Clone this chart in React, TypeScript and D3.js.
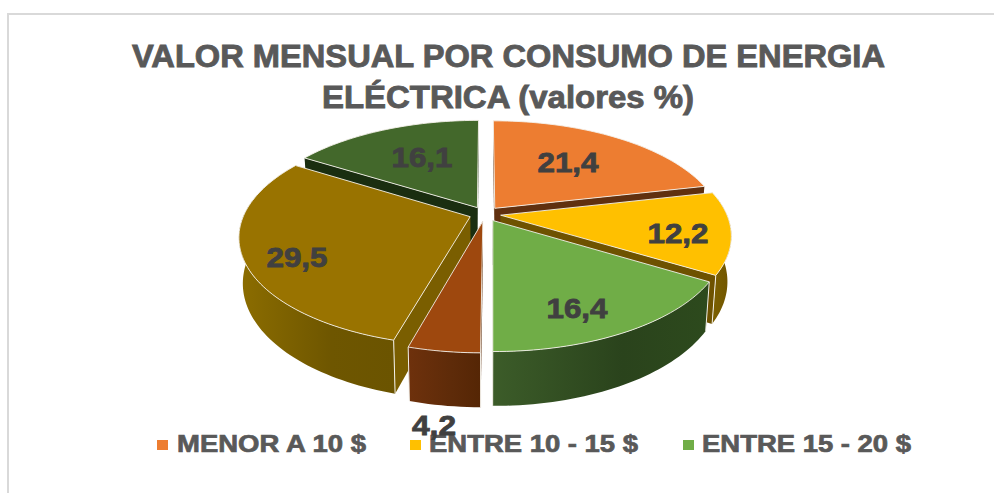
import React from "react";
import * as d3 from "d3";

const categories = ["MENOR A 10 $", "ENTRE 10 - 15 $", "ENTRE 15 - 20 $", "ENTRE 20 - 25 $", "ENTRE 25 - 30 $", "MAYOR A 30 $"];
const values = [21.4, 12.2, 16.4, 4.2, 29.5, 16.1];
const valueLabels = ["21,4", "12,2", "16,4", "4,2", "29,5", "16,1"];
const topColors = ["#ED7D31", "#FFC000", "#70AD47", "#9E480E", "#997300", "#43682B"];
const cutColors = ["#60300F", "#6E5200", "#2D4A1D", "#5A2A08", "#7A5E00", "#1A2E10"];
const rimStartColors = ["#60300F", "#7A5E00", "#3C5C29", "#6E310C", "#8C6D00", "#2D4A1D"];
const rimMidColors = ["#60300F", "#745800", "#2A431C", "#5E2B09", "#6E5600", "#2D4A1D"];
const rimEndColors = ["#60300F", "#6E5200", "#2D4A1D", "#552605", "#6B5400", "#2D4A1D"];
const legendCount = 3;
const titleLines = ["VALOR MENSUAL POR CONSUMO DE ENERGIA", "ELÉCTRICA (valores %)"];

// drawing order, back to front
const paintOrder = [5, 0, 1, 4, 3, 2];
// label centre offsets from the pie centre
const labelOffsets: [number, number][] = [
  [83, -52], [193, 19], [92, 94], [-51, 211], [-188, 43], [-63, -57],
];
const legendLayout = [
  { sq: 157, tx: 177, w: 189 },
  { sq: 410, tx: 429, w: 209 },
  { sq: 683, tx: 702, w: 209 },
];

const W = 994, H = 493;
const CX = 485, CY = 214, RX = 226, AY = 105, B = 0.179, DEPTH = 44, SHRINK = 0.016, EXPLODE = 0.07, RIM_MARGIN = 0.16;

function project(x: number, y: number, z: number): [number, number] {
  const den = 1 - B * y;
  return [CX + (RX * x * (1 - SHRINK * z)) / den, CY + (AY * y + DEPTH * z) / den];
}

const path = d3.line<[number, number]>().x((d) => d[0]).y((d) => d[1]);

export default function App() {
  const arcs = d3.pie<number>().sort(null).startAngle(0).endAngle(2 * Math.PI)(values);

  const slices = arcs.map((a, i) => {
    const mid = (a.startAngle + a.endAngle) / 2;
    const ox = EXPLODE * Math.sin(mid);
    const oy = -EXPLODE * Math.cos(mid);
    const at = (ang: number, r: number, z: number) =>
      project(ox + r * Math.sin(ang), oy - r * Math.cos(ang), z);
    const arcPts = (from: number, to: number, z: number) => {
      const n = Math.max(8, Math.ceil((to - from) * 40));
      return d3.range(n + 1).map((k) => at(from + ((to - from) * k) / n, 1, z));
    };
    const apex = at(0, 0, 0);
    const apexB = at(0, 0, 1);
    const top = path([apex, ...arcPts(a.startAngle, a.endAngle, 0)])! + "Z";
    const cut = (ang: number) => path([apex, at(ang, 1, 0), at(ang, 1, 1), apexB])! + "Z";
    // only the front of the rim faces the viewer
    const from = Math.max(a.startAngle, Math.PI / 2 - RIM_MARGIN);
    const to = Math.min(a.endAngle, (3 * Math.PI) / 2 + RIM_MARGIN);
    const hasRim = to > from;
    const tops = hasRim ? arcPts(from, to, 0) : [];
    const bots = hasRim ? arcPts(from, to, 1) : [];
    const rim = hasRim ? path([...tops, ...bots.slice().reverse()])! + "Z" : "";
    const corners = [a.startAngle, a.endAngle]
      .filter((t) => hasRim && t >= from - 1e-6 && t <= to + 1e-6)
      .map((t) => path([at(t, 1, 0), at(t, 1, 1)])!);
    const xs = tops.map((p) => p[0]);
    return {
      i, top, wall1: cut(a.startAngle), wall2: cut(a.endAngle), rim, corners,
      x0: d3.min(xs) ?? 0, x1: d3.max(xs) ?? 1,
    };
  });

  return (
    <svg
      width={W}
      height={H}
      viewBox={`0 0 ${W} ${H}`}
      style={{ position: "absolute", left: 0, top: 0, background: "#fff" }}
      fontFamily="'Liberation Sans', Arial, sans-serif"
    >
      <defs>
        {slices.map((s) => (
          <linearGradient key={s.i} id={`wall${s.i}`} gradientUnits="userSpaceOnUse" x1={s.x0} x2={s.x1} y1={0} y2={0}>
            <stop offset="0" stopColor={rimStartColors[s.i]} />
            <stop offset="0.6" stopColor={rimMidColors[s.i]} />
            <stop offset="1" stopColor={rimEndColors[s.i]} />
          </linearGradient>
        ))}
      </defs>

      <path d={`M${W},14H8V${H}`} fill="none" stroke="#d9d9d9" strokeWidth={2} />

      {titleLines.map((t, i) => (
        <text
          key={t}
          x={i === 0 ? 132 : 322}
          y={i === 0 ? 67 : 108}
          fontSize={32}
          fontWeight="bold"
          fill="#595959"
          stroke="#595959"
          strokeWidth={0.9}
          textLength={i === 0 ? 753 : 372}
          lengthAdjust="spacingAndGlyphs"
        >
          {t}
        </text>
      ))}

      {paintOrder.map((idx) => {
        const s = slices[idx];
        return (
          <g key={idx}>
            <path d={s.wall1} fill={cutColors[idx]} />
            <path d={s.wall2} fill={cutColors[idx]} />
            {s.rim && <path d={s.rim} fill={`url(#wall${idx})`} />}
            {s.corners.map((c, k) => (
              <path key={k} d={c} fill="none" stroke="#f4f1ea" strokeWidth={1} />
            ))}
            <path d={s.top} fill={topColors[idx]} stroke="#f4f1ea" strokeWidth={0.9} strokeLinejoin="round" />
          </g>
        );
      })}

      {categories.slice(0, legendCount).map((c, i) => (
        <g key={c}>
          <rect x={legendLayout[i].sq} y={440} width={11} height={10} fill={topColors[i]} />
          <text
            x={legendLayout[i].tx}
            y={452}
            fontSize={23.5}
            fontWeight="bold"
            fill="#595959"
            stroke="#595959"
            strokeWidth={0.7}
            textLength={legendLayout[i].w}
            lengthAdjust="spacingAndGlyphs"
          >
            {c}
          </text>
        </g>
      ))}

      {valueLabels.map((t, i) => (
        <text
          key={t}
          x={CX + labelOffsets[i][0]}
          y={CY + labelOffsets[i][1]}
          dy="0.36em"
          textAnchor="middle"
          fontSize={27}
          fontWeight="bold"
          fill="#404040"
          stroke="#404040"
          strokeWidth={0.8}
          textLength={t.length === 4 ? 61 : 44}
          lengthAdjust="spacingAndGlyphs"
        >
          {t}
        </text>
      ))}
    </svg>
  );
}
